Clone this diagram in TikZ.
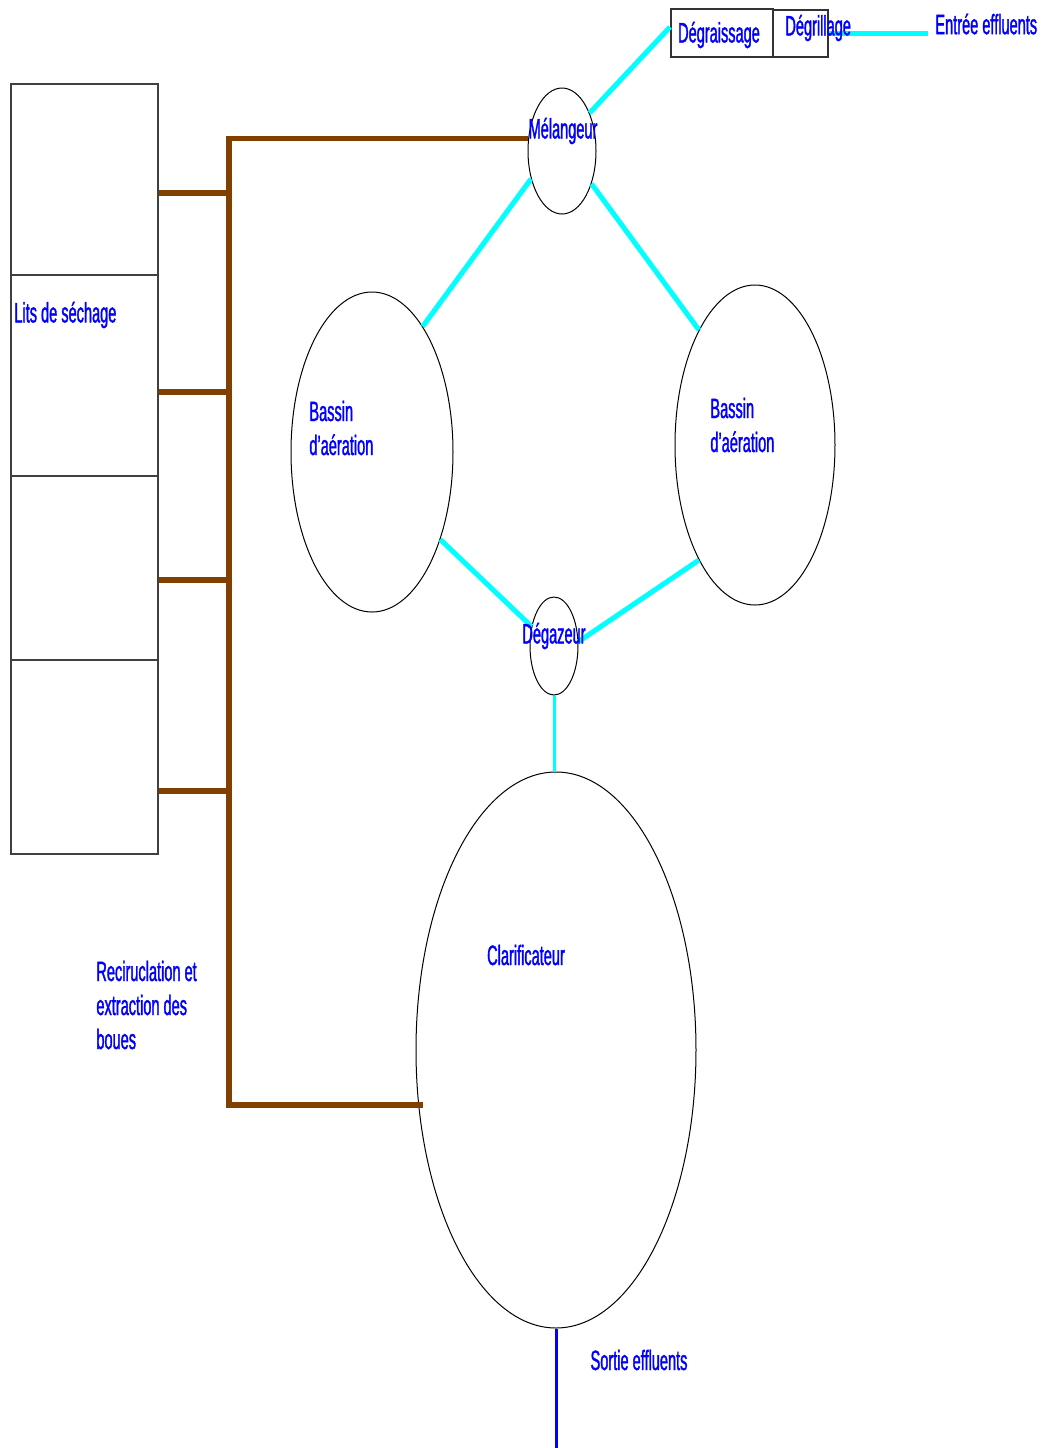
\documentclass[tikz,border=0pt]{standalone}
\usepackage{fontspec}
\setmainfont[FakeStretch=0.52,FakeBold=1.2]{Liberation Sans}
\usetikzlibrary{shapes.geometric}
\definecolor{sludge}{RGB}{128,64,0}
\definecolor{water}{RGB}{0,255,255}
\definecolor{txtblue}{RGB}{0,0,255}
\tikzset{
  txt/.style={inner sep=0pt, text=txtblue, font=\fontsize{14pt}{17pt}\selectfont, align=left},
  basin/.style={ellipse, draw=black, line width=0.5pt, inner sep=0pt},
  boxnode/.style={rectangle, draw=black!80, line width=1pt, inner sep=0pt},
  litbox/.style={rectangle, draw=black!75, line width=1pt, inner sep=0pt, minimum width=73.5pt},
  waterline/.style={draw=water, line width=2.5pt},
  thinwater/.style={draw=water, line width=1.5pt},
  sludgeline/.style={draw=sludge, line width=2.75pt},
  outline/.style={draw=txtblue, line width=1.5pt}
}
\begin{document}
\begin{tikzpicture}[x=0.5pt,y=-0.5pt]
\useasboundingbox (0,0) rectangle (1041,1448);
% process units
\node[boxnode, minimum width=51pt, minimum height=24pt] (dgr) at (722,33) {};
\node[boxnode, minimum width=27.5pt, minimum height=23.5pt] (dgl) at (800.5,33.5) {};
\node[basin, minimum width=34pt, minimum height=63pt] (mel) at (562,151) {};
\node[basin, minimum width=81pt, minimum height=160pt] (bl) at (372,452) {};
\node[basin, minimum width=80pt, minimum height=160pt] (br) at (755,445) {};
\node[basin, minimum width=24pt, minimum height=49pt] (deg) at (554,646) {};
\node[basin, minimum width=140pt, minimum height=278pt] (clar) at (556,1050) {};
% drying beds
\node[litbox, minimum height=95.5pt] (lit1) at (84.5,179.5) {};
\node[litbox, minimum height=100.5pt] (lit2) at (84.5,375.5) {};
\node[litbox, minimum height=92pt] (lit3) at (84.5,568) {};
\node[litbox, minimum height=97pt] (lit4) at (84.5,757) {};
% text
\node[txt, anchor=west] (entree) at (935,24) {Entrée effluents};
% water connectors
\draw[waterline] (dgl.east) -- ([xshift=-3.5pt]entree.west |- dgl.east);
\draw[waterline] ([yshift=3pt]dgr.west) -- (mel.54);
\draw[waterline] (mel.222) -- (bl.68);
\draw[waterline] (mel.312) -- (br.116);
\draw[waterline] (bl.308) -- (deg.139);
\draw[waterline] (br.244) -- (deg.10);
\draw[thinwater] (deg.south) -- (deg.south |- clar.north);
\draw[outline] (clar.south) -- ++(0,120) coordinate (out);
% sludge network
\coordinate (trunk) at (229,139);
\coordinate (b1) at (229,193);
\coordinate (b2) at (229,392);
\coordinate (b3) at (229,580);
\coordinate (b4) at (229,791);
\coordinate (tbot) at (229,1105);
\draw[sludgeline] (mel.160) -- (mel.160 -| trunk) -- (tbot) -- ([xshift=2.5pt]tbot -| clar.202);
\draw[sludgeline] (b1) -- (b1 -| lit1.east);
\draw[sludgeline] (b2) -- (b2 -| lit2.east);
\draw[sludgeline] (b3) -- (b3 -| lit3.east);
\draw[sludgeline] (b4) -- (b4 -| lit4.east);
% labels
\node[txt] (tdgr) at (719,35) {Dégraissage};
\node[txt, anchor=west] (tdgl) at (785,28) {Dégrillage};
\node[txt] (tmel) at (563,131) {Mélangeur};
\node[txt, anchor=west] (tlit) at (14,315) {Lits de séchage};
\node[txt, anchor=west] (tbl) at (309,428) {Bassin\\d'aération};
\node[txt, anchor=west] (tbr) at (710,425) {Bassin\\d'aération};
\node[txt] (tdeg) at (554,636) {Dégazeur};
\node[txt] (tclar) at (526,955) {Clarificateur};
\node[txt, anchor=west] (trec) at (96,1005) {Reciruclation et\\extraction des\\boues};
\node[txt] (tsortie) at (639,1360) {Sortie effluents};
\end{tikzpicture}
\end{document}
